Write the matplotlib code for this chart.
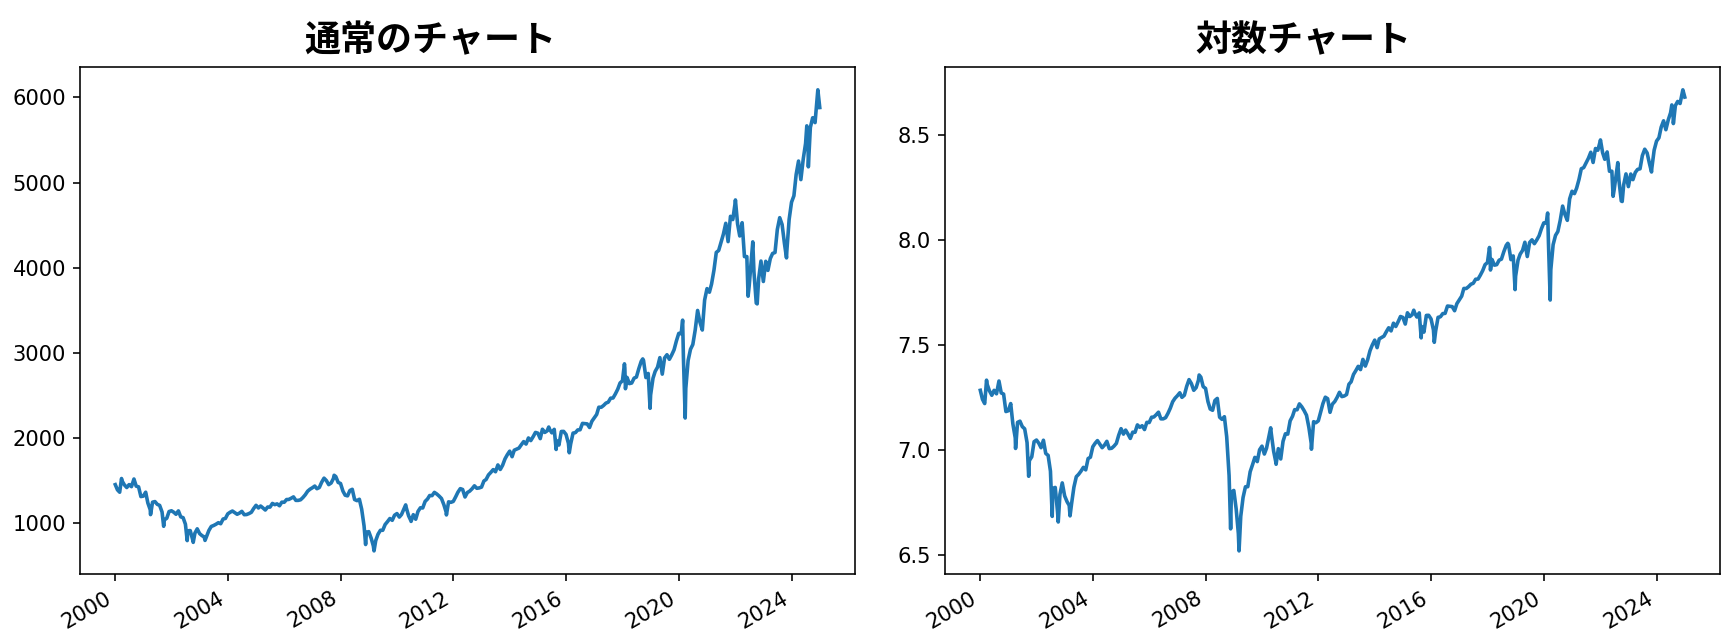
import matplotlib.pyplot as plt
import matplotlib.dates as mdates
import numpy as np
import pandas as pd

plt.rcParams['font.family'] = ['DejaVu Sans', 'Noto Sans CJK JP']

# --------------------------------------------------
# Month-end closes (2000-01 .. 2024-12)
# --------------------------------------------------
closes_2000 = [1394, 1366, 1499, 1452, 1421, 1455, 1431, 1518, 1437, 1429, 1315, 1320]
closes_2001 = [1366, 1240, 1160, 1249, 1256, 1224, 1211, 1134, 1041, 1060, 1139, 1148]
closes_2002 = [1130, 1107, 1147, 1077, 1067, 990, 912, 916, 815, 886, 936, 880]
closes_2003 = [856, 841, 848, 917, 964, 975, 990, 1008, 996, 1051, 1058, 1112]
closes_2004 = [1131, 1145, 1126, 1107, 1121, 1141, 1102, 1104, 1115, 1130, 1174, 1212]
closes_2005 = [1181, 1204, 1181, 1157, 1192, 1191, 1234, 1220, 1229, 1207, 1249, 1248]
closes_2006 = [1280, 1281, 1295, 1311, 1270, 1270, 1277, 1304, 1336, 1378, 1401, 1418]
closes_2007 = [1438, 1407, 1421, 1482, 1531, 1503, 1455, 1474, 1527, 1549, 1481, 1468]
closes_2008 = [1379, 1331, 1323, 1386, 1400, 1280, 1267, 1283, 1166, 969, 896, 903]
closes_2009 = [826, 735, 798, 873, 919, 919, 987, 1021, 1057, 1036, 1096, 1115]
closes_2010 = [1074, 1104, 1169, 1187, 1089, 1031, 1102, 1049, 1141, 1183, 1181, 1258]
closes_2011 = [1286, 1327, 1326, 1364, 1345, 1321, 1292, 1219, 1131, 1253, 1247, 1258]
closes_2012 = [1312, 1366, 1408, 1398, 1310, 1362, 1379, 1407, 1441, 1412, 1416, 1426]
closes_2013 = [1498, 1515, 1569, 1598, 1631, 1606, 1686, 1633, 1682, 1757, 1806, 1848]
closes_2014 = [1783, 1859, 1872, 1884, 1924, 1960, 1931, 2003, 1972, 2018, 2068, 2059]
closes_2015 = [1995, 2105, 2068, 2086, 2107, 2063, 2104, 1972, 1920, 2079, 2080, 2044]
closes_2016 = [1940, 1932, 2060, 2065, 2097, 2099, 2174, 2171, 2168, 2126, 2199, 2239]
closes_2017 = [2279, 2364, 2363, 2384, 2412, 2423, 2470, 2472, 2519, 2575, 2648, 2674]
closes_2018 = [2824, 2714, 2641, 2648, 2705, 2718, 2816, 2902, 2914, 2712, 2760, 2507]
closes_2019 = [2704, 2784, 2834, 2946, 2752, 2942, 2980, 2926, 2977, 3038, 3141, 3231]
closes_2020 = [3226, 2954, 2585, 2912, 3044, 3100, 3271, 3500, 3363, 3270, 3622, 3756]
closes_2021 = [3714, 3811, 3973, 4181, 4204, 4298, 4395, 4523, 4308, 4605, 4567, 4766]
closes_2022 = [4516, 4374, 4530, 4132, 4132, 3785, 4130, 3955, 3586, 3872, 4080, 3840]
closes_2023 = [4077, 3970, 4109, 4169, 4180, 4450, 4589, 4508, 4288, 4194, 4568, 4770]
closes_2024 = [4846, 5096, 5254, 5036, 5278, 5460, 5522, 5648, 5762, 5705, 6032, 5882]

# Intra-month peaks and troughs visible on the chart
extreme_dates = ['2000-01-03', '2000-03-24', '2000-09-01', '2001-04-04', '2001-09-21',
                 '2002-07-23', '2002-10-09', '2003-03-11', '2007-10-09', '2008-11-20',
                 '2009-03-09', '2010-04-23', '2010-07-02', '2011-04-29', '2011-10-03',
                 '2015-05-21', '2015-08-25', '2016-02-11', '2018-01-26', '2018-02-08',
                 '2018-09-20', '2018-12-24', '2020-02-19', '2020-03-23', '2022-01-03',
                 '2022-06-16', '2022-08-16', '2022-10-12', '2023-07-31', '2023-10-27',
                 '2024-07-16', '2024-08-05', '2024-12-06']
extreme_values = [1455, 1527, 1521, 1103, 966,
                  798, 777, 800, 1565, 752,
                  677, 1217, 1023, 1364, 1099,
                  2131, 1868, 1829, 2873, 2581,
                  2931, 2351, 3386, 2237, 4797,
                  3667, 4305, 3577, 4589, 4117,
                  5667, 5186, 6090]

monthly = (closes_2000 + closes_2001 + closes_2002 + closes_2003 + closes_2004
           + closes_2005 + closes_2006 + closes_2007 + closes_2008 + closes_2009
           + closes_2010 + closes_2011 + closes_2012 + closes_2013 + closes_2014
           + closes_2015 + closes_2016 + closes_2017 + closes_2018 + closes_2019
           + closes_2020 + closes_2021 + closes_2022 + closes_2023 + closes_2024)
month_dates = pd.date_range('2000-01-31', periods=len(monthly), freq='ME')

s = pd.concat([
    pd.Series(monthly, index=month_dates),
    pd.Series(extreme_values, index=pd.to_datetime(extreme_dates)),
]).sort_index()
s = s[~s.index.duplicated()]

# --------------------------------------------------
# Figure
# --------------------------------------------------
fig = plt.figure(figsize=(1729 / 144, 642 / 144), dpi=144)
ax1 = fig.add_axes([0.0463, 0.106, 0.4482, 0.790])
ax2 = fig.add_axes([0.5466, 0.106, 0.4482, 0.790])

ax1.plot(s.index, s.values, color='#1f77b4', lw=1.8)
ax2.plot(s.index, np.log(s.values), color='#1f77b4', lw=1.8)

title_font = dict(family='Noto Sans CJK JP', fontsize=18, fontweight='bold')
ax1.set_title('通常のチャート', x=0.452, pad=8, **title_font)
ax2.set_title('対数チャート', x=0.463, pad=8, **title_font)

for ax in (ax1, ax2):
    ax.xaxis.set_major_locator(mdates.YearLocator(4))
    ax.xaxis.set_major_formatter(mdates.DateFormatter('%Y'))
    ax.tick_params(labelsize=10.5)
    for lab in ax.get_xticklabels():
        lab.set_rotation(30)
        lab.set_ha('right')

ax2.set_yticks([6.5, 7.0, 7.5, 8.0, 8.5])

plt.savefig('out.png', dpi=144)
